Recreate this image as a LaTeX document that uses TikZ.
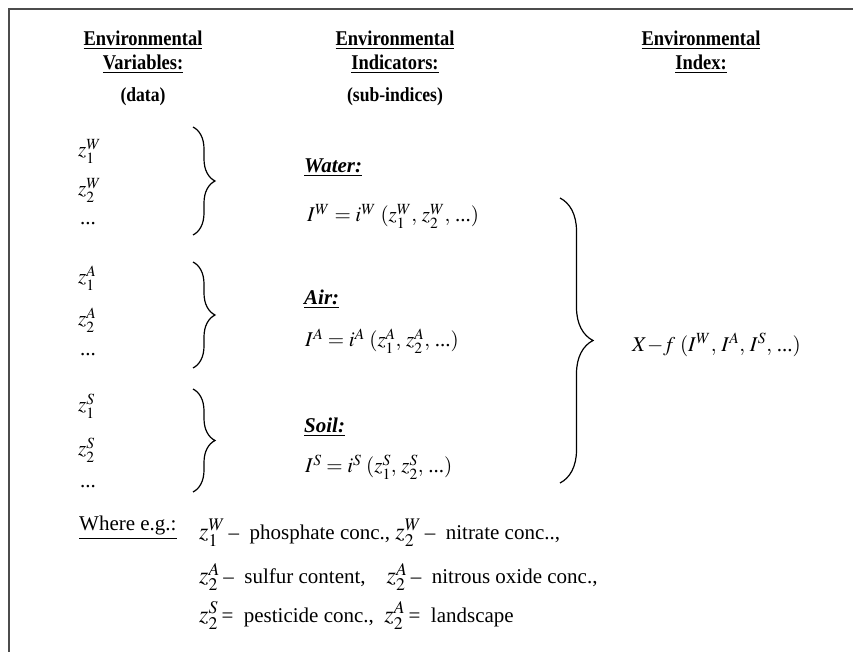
\documentclass[tikz,border=0pt]{standalone}
\usepackage{mathptmx}
\usepackage{fontspec}
\setmainfont{Liberation Serif}
\newfontfamily\hdfont[FakeStretch=0.88]{Liberation Serif}
\usetikzlibrary{decorations.pathreplacing}
\newcommand{\dts}{\mbox{...}}
\newcommand{\bz}[1]{{\fontsize{24}{24}\selectfont$#1$}\,}
\begin{document}
\begin{tikzpicture}[x=1pt, y=-1pt]
    \tikzstyle{hd}=[align=center, inner sep=0pt, font=\hdfont\bfseries\fontsize{21}{24}\selectfont]
    \tikzstyle{zv}=[anchor=west, inner sep=0pt, font=\fontsize{21}{22}\selectfont]
    \tikzstyle{eq}=[anchor=west, inner sep=0pt, font=\fontsize{21}{22}\selectfont]
    \tikzstyle{medium}=[anchor=west, inner sep=0pt, font=\bfseries\itshape\fontsize{21}{22}\selectfont]
    \tikzstyle{txt}=[anchor=west, inner sep=0pt, font=\fontsize{21}{24}\selectfont]
    \tikzstyle{br}=[decorate, decoration={brace, amplitude=22pt}, line width=1.2pt]
    \useasboundingbox (0,0) rectangle (853,652);
    \draw[line width=2.5pt, black!70] (9,652) -- (9,9) -- (853,9);
    % headers
    \node[hd] (hvar) at (143,52) {\underline{Environmental}\\\underline{Variables:}};
    \node[hd] (hind) at (395,52) {\underline{Environmental}\\\underline{Indicators:}};
    \node[hd] (hidx) at (701,52) {\underline{Environmental}\\\underline{Index:}};
    \node[hd, font=\hdfont\bfseries\fontsize{20}{24}\selectfont] (hdata) at (143,97) {(data)};
    \node[hd, font=\hdfont\bfseries\fontsize{20}{24}\selectfont] (hsub) at (395,97) {(sub-indices)};
    % variables
    \node[zv] (zW1) at (78,151) {$z_1^W$};
    \node[zv] (zW2) at (78,190) {$z_2^W$};
    \node[zv] (zWd) at (80,224) {\dts};
    \node[zv] (zA1) at (78,278) {$z_1^A$};
    \node[zv] (zA2) at (78,320) {$z_2^A$};
    \node[zv] (zAd) at (80,355) {\dts};
    \node[zv] (zS1) at (78,406) {$z_1^S$};
    \node[zv] (zS2) at (78,450) {$z_2^S$};
    \node[zv] (zSd) at (80,487) {\dts};
    \coordinate (bW1) at (193,127); \coordinate (bW2) at (193,235);
    \coordinate (bA1) at (193,262); \coordinate (bA2) at (193,368);
    \coordinate (bS1) at (193,389); \coordinate (bS2) at (193,492);
    \draw[br] (bW1) -- (bW2);
    \draw[br] (bA1) -- (bA2);
    \draw[br] (bS1) -- (bS2);
    % indicators
    \node[medium] (water) at (304,168) {\underline{Water:}};
    \node[eq] (eqW) at (307,216) {$I^W = i^W\;(z_1^W,\,z_2^W,\,\dts)$};
    \node[medium] (air) at (304,299) {\underline{Air:}};
    \node[eq] (eqA) at (305,341) {$I^A = i^A\;(z_1^A,\,z_2^A,\,\dts)$};
    \node[medium] (soil) at (304,427) {\underline{Soil:}};
    \node[eq] (eqS) at (305,467) {$I^S = i^S\;(z_1^S,\,z_2^S,\,\dts)$};
    \coordinate (bI1) at (560,198); \coordinate (bI2) at (560,483);
    \draw[br, decoration={amplitude=33pt}] (bI1) -- (bI2);
    % index
    \node[eq] (idx) at (632,345) {$X{-}f\;(I^W,\,I^A,\,I^S,\,\dts)$};
    % legend
    \node[txt] (where) at (79,528) {\underline{Where e.g.:}};
    \node[txt] (ex1) at (199,533) {\bz{z_1^W}–\enspace phosphate conc., \bz{z_2^W}–\enspace nitrate conc..,};
    \node[txt] (ex2) at (199,577) {\bz{z_2^A}–\enspace sulfur content,\quad\bz{z_2^A}–\enspace nitrous oxide conc.,};
    \node[txt] (ex3) at (199,616) {\bz{z_2^S}=\enspace pesticide conc.,\ \ \bz{z_2^A}=\enspace landscape};
\end{tikzpicture}
\end{document}
